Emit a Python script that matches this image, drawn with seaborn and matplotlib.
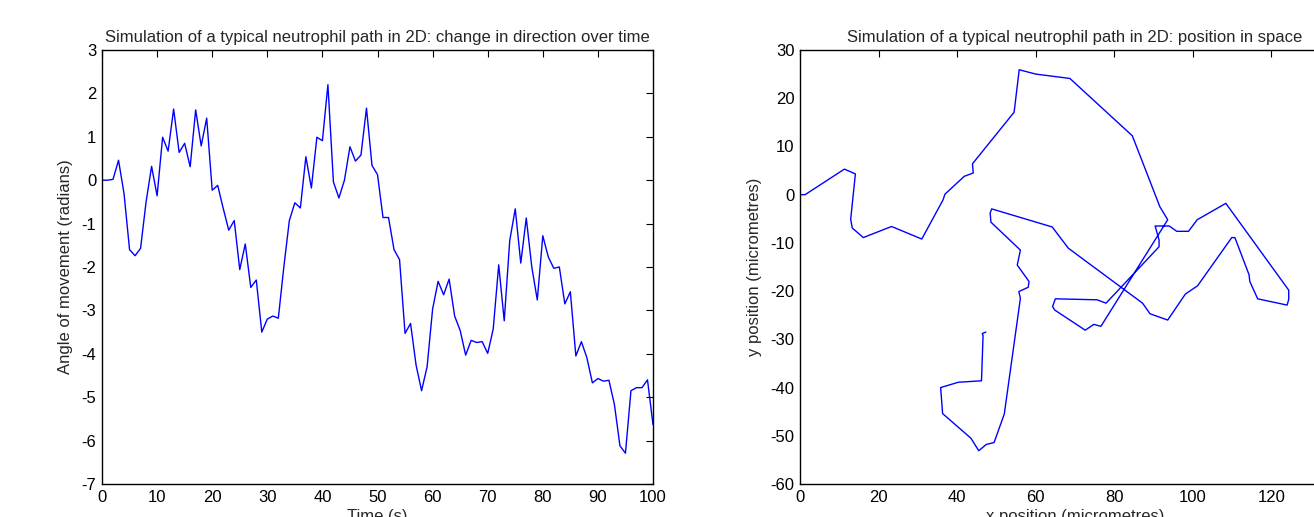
import numpy as np
import pandas as pd
import seaborn as sns
import matplotlib.pyplot as plt

# angle of movement, one value per second
time_s = list(range(0, 101))
angle = [0.0, 0.0, 0.02, 0.46, -0.31, -1.6, -1.74, -1.57, -0.5, 0.32,
         -0.36, 0.99, 0.67, 1.64, 0.64, 0.85, 0.31, 1.62, 0.79, 1.43,
         -0.23, -0.12, -0.65, -1.15, -0.93, -2.06, -1.47, -2.47, -2.3, -3.5,
         -3.2, -3.13, -3.18, -2.0, -0.93, -0.52, -0.64, 0.54, -0.18, 0.99,
         0.91, 2.2, -0.04, -0.41, 0.0, 0.77, 0.44, 0.58, 1.66, 0.34,
         0.13, -0.86, -0.86, -1.6, -1.83, -3.53, -3.3, -4.26, -4.85, -4.3,
         -2.97, -2.33, -2.64, -2.28, -3.13, -3.46, -4.03, -3.69, -3.74, -3.72,
         -3.99, -3.43, -1.95, -3.24, -1.39, -0.66, -1.91, -0.87, -2.0, -2.76,
         -1.28, -1.77, -2.03, -2.0, -2.85, -2.57, -4.05, -3.72, -4.09, -4.67,
         -4.57, -4.63, -4.61, -5.17, -6.12, -6.29, -4.85, -4.78, -4.78, -4.6,
         -5.63]

# path vertices (micrometres)
x_pos = [0.0, 1.3, 11.3, 14.1, 12.9, 13.3, 16.1, 23.3, 31.0, 36.4,
         36.9, 41.8, 44.1, 43.9, 54.5, 55.8, 60.05, 68.7, 84.6, 91.6,
         93.6, 76.6, 74.8, 72.6, 64.8, 64.3, 65.0, 75.6, 77.9, 91.4,
         91.4, 90.4, 94.0, 95.9, 98.9, 101.1, 108.4, 124.4, 124.4, 124.0,
         116.5, 114.5, 114.3, 110.7, 109.9, 101.2, 98.1, 93.6, 89.1, 87.2,
         68.3, 64.2, 48.8, 48.4, 48.6, 56.1, 55.3, 58.3, 58.1, 55.7,
         56.1, 52.0, 49.4, 47.4, 45.5, 43.5, 36.3, 35.8, 40.3, 46.2,
         46.6, 46.4, 47.3]
y_pos = [0.0, 0.0, 5.3, 4.3, -5.1, -6.9, -8.9, -6.6, -9.2, -1.1,
         0.1, 3.8, 4.5, 6.4, 17.1, 25.9, 25.0, 24.1, 12.2, -2.5,
         -5.2, -27.3, -26.9, -28.1, -23.9, -23.2, -21.6, -21.8, -22.5, -10.8,
         -9.4, -6.5, -6.5, -7.6, -7.6, -5.2, -1.8, -19.8, -21.7, -22.9,
         -21.6, -18.0, -16.6, -8.9, -8.9, -18.9, -20.6, -26.0, -24.7, -22.5,
         -11.1, -6.7, -2.95, -3.8, -5.7, -11.5, -14.6, -18.0, -19.2, -20.1,
         -21.5, -45.5, -51.4, -51.8, -53.1, -50.5, -45.4, -40.0, -38.9, -38.6,
         -29.2, -28.8, -28.5]

left_xticks = list(range(0, 101, 10))
left_yticks = list(range(-7, 4))
right_xticks = list(range(0, 141, 20))
right_yticks = list(range(-60, 31, 10))

sns.set_theme(style="white")
plt.rcParams['font.family'] = ['Liberation Sans', 'DejaVu Sans']
plt.rcParams['axes.unicode_minus'] = False

angle_df = pd.DataFrame({"Time": time_s, "Angle": angle})
path_df = pd.DataFrame({"x": x_pos, "y": y_pos})

fs = 12

fig = plt.figure(figsize=(13.14, 5.17), dpi=100)
ax1 = fig.add_axes([102 / 1314, 33 / 517, 551 / 1314, 434 / 517])
ax2 = fig.add_axes([800 / 1314, 33 / 517, 550 / 1314, 434 / 517])

sns.lineplot(data=angle_df, x="Time", y="Angle", ax=ax1, color="#0000ff", lw=1)
ax1.set_xlim(0, 100)
ax1.set_ylim(-7, 3)
ax1.set_xticks(left_xticks)
ax1.set_yticks(left_yticks)
ax1.set_xlabel("Time (s)", fontsize=fs)
ax1.set_ylabel("Angle of movement (radians)", fontsize=fs)
ax1.set_title("Simulation of a typical neutrophil path in 2D: change in direction over time",
              fontsize=fs, pad=6)

sns.lineplot(data=path_df, x="x", y="y", ax=ax2, sort=False, estimator=None,
             color="#0000ff", lw=1)
ax2.set_xlim(0, 140)
ax2.set_ylim(-60, 30)
ax2.set_xticks(right_xticks)
ax2.set_yticks(right_yticks)
ax2.set_xlabel("x position (micrometres)", fontsize=fs)
ax2.set_ylabel("y position (micrometres)", fontsize=fs)
ax2.set_title("Simulation of a typical neutrophil path in 2D: position in space",
              fontsize=fs, pad=6)

for ax in (ax1, ax2):
    for sp in ax.spines.values():
        sp.set_visible(True)
        sp.set_color("black")
        sp.set_linewidth(1.0)
    ax.tick_params(direction="in", top=True, right=True, length=5, width=0.8,
                   labelsize=fs, colors="black", pad=4)
    ax.xaxis.labelpad = 3
    ax.yaxis.labelpad = 6

fig.savefig("out.png", dpi=100)
